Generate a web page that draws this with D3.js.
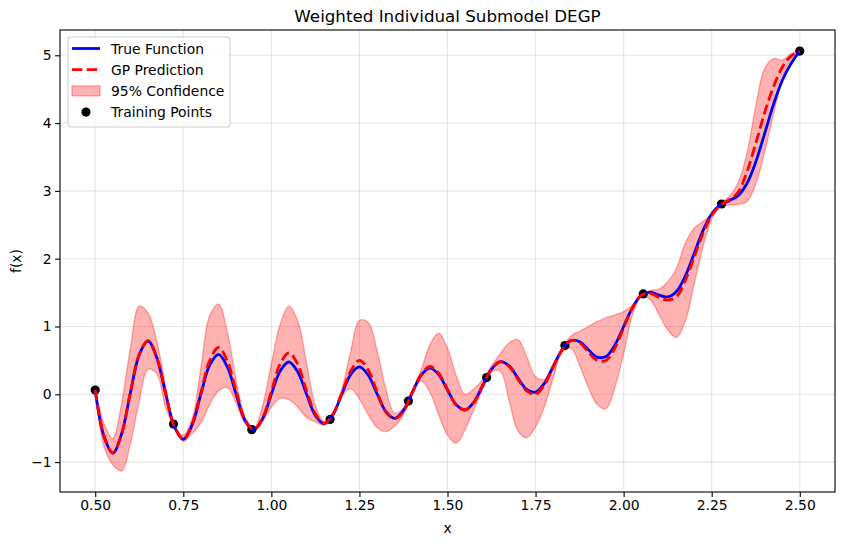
<!DOCTYPE html>
<html lang="en">
<head>
<meta charset="UTF-8">
<title>Weighted Individual Submodel DEGP</title>
<script src="https://cdn.jsdelivr.net/npm/d3@7/dist/d3.min.js"></script>
<style>
    body { margin: 0; background: #fff; }
    text { font-family: "DejaVu Sans", sans-serif; fill: #000; }
</style>
</head>
<body>
<div id="chart"></div>
<script>
    // sample grid
    const xs = [0.500, 0.525, 0.550, 0.575, 0.600, 0.625, 0.650, 0.675, 0.700, 0.725,
        0.750, 0.775, 0.800, 0.825, 0.850, 0.875, 0.900, 0.925, 0.950, 0.975,
        1.000, 1.025, 1.050, 1.075, 1.100, 1.125, 1.150, 1.175, 1.200, 1.225,
        1.250, 1.275, 1.300, 1.325, 1.350, 1.375, 1.400, 1.425, 1.450, 1.475,
        1.500, 1.525, 1.550, 1.575, 1.600, 1.625, 1.650, 1.675, 1.700, 1.725,
        1.750, 1.775, 1.800, 1.825, 1.850, 1.875, 1.900, 1.925, 1.950, 1.975,
        2.000, 2.025, 2.050, 2.075, 2.100, 2.125, 2.150, 2.175, 2.200, 2.225,
        2.250, 2.275, 2.300, 2.325, 2.350, 2.375, 2.400, 2.425, 2.450, 2.475, 2.500]

    const trueY = [0.0625, -0.6225, -0.8681, -0.5823, 0.0256, 0.5855, 0.7842, 0.5350, 0.0081, -0.4820,
        -0.6628, -0.4536, 0.0016, 0.4294, 0.5887, 0.4043, 0.0001, -0.3822, -0.5263, -0.3626,
        0.0000, 0.3449, 0.4762, 0.3289, 0.0001, -0.3141, -0.4343, -0.3000, 0.0016, 0.2912,
        0.4039, 0.2830, 0.0081, -0.2556, -0.3554, -0.2373, 0.0256, 0.2807, 0.3858, 0.2906,
        0.0625, -0.1558, -0.2311, -0.1152, 0.1296, 0.3702, 0.4815, 0.4187, 0.2401, 0.0713,
        0.0307, 0.1615, 0.4096, 0.6570, 0.7923, 0.7748, 0.6561, 0.5484, 0.5581, 0.7247,
        1.0000, 1.2784, 1.4594, 1.5059, 1.4641, 1.4354, 1.5164, 1.7435, 2.0736, 2.4108,
        2.6636, 2.7981, 2.8561, 2.9301, 3.1087, 3.4256, 3.8416, 4.2692, 4.6246, 4.8761, 5.0625]

    const gpMean = [0.06, -0.62, -0.86, -0.58, 0.03, 0.59, 0.79, 0.54, 0.01, -0.48,
        -0.66, -0.44, 0.03, 0.50, 0.69, 0.49, 0.05, -0.37, -0.52, -0.35,
        0.04, 0.45, 0.61, 0.44, 0.05, -0.29, -0.43, -0.29, 0.02, 0.34,
        0.50, 0.36, 0.04, -0.26, -0.36, -0.25, 0.03, 0.29, 0.41, 0.31,
        0.07, -0.16, -0.23, -0.12, 0.13, 0.37, 0.48, 0.41, 0.22, 0.05,
        0.00, 0.14, 0.40, 0.65, 0.79, 0.76, 0.62, 0.50, 0.50, 0.68,
        0.98, 1.27, 1.46, 1.49, 1.43, 1.39, 1.44, 1.68, 2.02, 2.37,
        2.64, 2.79, 2.87, 2.98, 3.28, 3.70, 4.15, 4.53, 4.82, 4.99, 5.06]

    const ciLower = [0.05, -0.77, -1.04, -1.13, -0.73, -0.10, 0.37, 0.30, -0.20, -0.50,
        -0.69, -0.58, -0.42, -0.15, 0.05, 0.10, -0.13, -0.43, -0.54, -0.40,
        -0.19, -0.06, -0.08, -0.19, -0.34, -0.41, -0.45, -0.31, -0.03, 0.08,
        -0.07, -0.30, -0.49, -0.55, -0.47, -0.30, 0.00, 0.20, 0.03, -0.30,
        -0.60, -0.72, -0.52, -0.22, 0.08, 0.33, 0.34, -0.09, -0.54, -0.64,
        -0.48, -0.18, 0.24, 0.62, 0.68, 0.43, 0.10, -0.15, -0.21, 0.10,
        0.60, 1.17, 1.44, 1.40, 1.18, 0.95, 0.84, 1.08, 1.62, 2.17,
        2.58, 2.77, 2.79, 2.80, 2.84, 3.10, 3.57, 4.12, 4.64, 4.94, 5.05]

    const ciUpper = [0.08, -0.43, -0.65, -0.13, 0.69, 1.30, 1.20, 0.78, 0.12, -0.46,
        -0.60, -0.36, 0.39, 1.16, 1.33, 0.92, 0.21, -0.34, -0.51, -0.17,
        0.45, 1.03, 1.30, 1.08, 0.46, -0.17, -0.40, -0.28, 0.07, 0.63,
        1.09, 1.06, 0.65, 0.08, -0.28, -0.20, 0.05, 0.35, 0.73, 0.90,
        0.68, 0.27, 0.00, 0.08, 0.22, 0.42, 0.60, 0.76, 0.81, 0.55,
        0.26, 0.22, 0.45, 0.67, 0.86, 0.93, 1.00, 1.07, 1.13, 1.17,
        1.22, 1.32, 1.47, 1.53, 1.55, 1.66, 1.86, 2.23, 2.45, 2.55,
        2.66, 2.81, 2.92, 3.12, 3.55, 4.25, 4.80, 4.95, 4.93, 5.02, 5.07]

    const trainX = [0.5, 0.7222, 0.9444, 1.1667, 1.3889, 1.6111, 1.8333, 2.0556, 2.2778, 2.5]
    const trainY = [0.0625, -0.439, -0.521, -0.370, -0.100, 0.246, 0.719, 1.481, 2.807, 5.0625]

    const xTicks = [0.5, 0.75, 1.0, 1.25, 1.5, 1.75, 2.0, 2.25, 2.5]
    const yTicks = [-1, 0, 1, 2, 3, 4, 5]

    const width = 844, height = 545,
        margin = { left: 60, top: 30, right: 9, bottom: 53 },
        g_width = width - margin.left - margin.right,
        g_height = height - margin.top - margin.bottom

    const svg = d3.select('#chart').append('svg').attr('width', width).attr('height', height)
    const g = svg.append('g').attr('transform', `translate(${margin.left},${margin.top})`)

    const x = d3.scaleLinear().domain([0.4, 2.6]).range([0, g_width])
    const y = d3.scaleLinear().domain([-1.441, 5.373]).range([g_height, 0])

    // grid
    g.append('g').selectAll('line').data(xTicks).join('line')
        .attr('x1', d => x(d)).attr('x2', d => x(d)).attr('y1', 0).attr('y2', g_height)
        .attr('stroke', '#b0b0b0').attr('stroke-opacity', 0.3).attr('stroke-width', 1.1)
    g.append('g').selectAll('line').data(yTicks).join('line')
        .attr('y1', d => y(d)).attr('y2', d => y(d)).attr('x1', 0).attr('x2', g_width)
        .attr('stroke', '#b0b0b0').attr('stroke-opacity', 0.3).attr('stroke-width', 1.1)

    const pts = xs.map((d, i) => i)
    const curve = d3.curveCatmullRom.alpha(0.5)

    // confidence band
    const area = d3.area().x(i => x(xs[i])).y0(i => y(ciLower[i])).y1(i => y(ciUpper[i])).curve(curve)
    g.append('path').attr('d', area(pts))
        .attr('fill', 'red').attr('fill-opacity', 0.3)
        .attr('stroke', 'red').attr('stroke-opacity', 0.3).attr('stroke-width', 1.4)

    // training points
    g.append('g').selectAll('circle').data(trainX).join('circle')
        .attr('cx', d => x(d)).attr('cy', (d, i) => y(trainY[i])).attr('r', 4.6).attr('fill', '#000')

    const trueLine = d3.line().x(i => x(xs[i])).y(i => y(trueY[i])).curve(curve)
    g.append('path').attr('d', trueLine(pts))
        .attr('fill', 'none').attr('stroke', 'blue').attr('stroke-width', 2.8)

    const gpLine = d3.line().x(i => x(xs[i])).y(i => y(gpMean[i])).curve(curve)
    g.append('path').attr('d', gpLine(pts))
        .attr('fill', 'none').attr('stroke', 'red').attr('stroke-width', 2.8)
        .attr('stroke-dasharray', '10.3,4.4')

    // axes
    const xAxis = d3.axisBottom(x).tickValues(xTicks).tickFormat(d3.format('.2f')).tickSize(4.9).tickPadding(3.5).tickSizeOuter(0)
    const yAxis = d3.axisLeft(y).tickValues(yTicks).tickFormat(d => d < 0 ? '\u2212' + Math.abs(d) : d).tickSize(4.9).tickPadding(3.5).tickSizeOuter(0)
    const gx = g.append('g').attr('transform', `translate(0,${g_height})`).call(xAxis)
    const gy = g.append('g').call(yAxis)
    for (const a of [gx, gy]) {
        a.selectAll('text').style('font-size', '13.9px').style('font-family', 'DejaVu Sans')
        a.selectAll('line').attr('stroke', '#000').attr('stroke-width', 1.1)
        a.select('.domain').remove()
    }

    // frame
    g.append('rect').attr('width', g_width).attr('height', g_height)
        .attr('fill', 'none').attr('stroke', '#000').attr('stroke-width', 1.1)

    // labels
    svg.append('text').attr('x', margin.left + g_width / 2).attr('y', 22)
        .attr('text-anchor', 'middle').style('font-size', '16.7px').text('Weighted Individual Submodel DEGP')
    svg.append('text').attr('x', margin.left + g_width / 2).attr('y', 533)
        .attr('text-anchor', 'middle').style('font-size', '13.9px').text('x')
    svg.append('text').attr('transform', `translate(21,${margin.top + g_height / 2}) rotate(-90)`)
        .attr('text-anchor', 'middle').style('font-size', '13.9px').text('f(x)')

    // legend
    const lg = svg.append('g').attr('transform', 'translate(68,37)')
    lg.append('rect').attr('width', 162).attr('height', 90).attr('rx', 3)
        .attr('fill', '#fff').attr('fill-opacity', 0.8).attr('stroke', '#d0d0d0').attr('stroke-width', 1.1)
    const rows = [
        { label: 'True Function', type: 'line', color: 'blue' },
        { label: 'GP Prediction', type: 'dash', color: 'red' },
        { label: '95% Confidence', type: 'patch', color: 'red' },
        { label: 'Training Points', type: 'dot', color: '#000' }
    ]
    rows.forEach((r, i) => {
        const ry = 11.5 + i * 21.2
        const row = lg.append('g').attr('transform', `translate(0,${ry})`)
        if (r.type === 'line' || r.type === 'dash') {
            row.append('line').attr('x1', 4).attr('x2', 32).attr('y1', 0).attr('y2', 0)
                .attr('stroke', r.color).attr('stroke-width', 2.8)
                .attr('stroke-dasharray', r.type === 'dash' ? '10.3,4.4' : null)
        } else if (r.type === 'patch') {
            row.append('rect').attr('x', 4).attr('y', -5).attr('width', 28).attr('height', 10)
                .attr('fill', 'red').attr('fill-opacity', 0.3).attr('stroke', 'red').attr('stroke-opacity', 0.3).attr('stroke-width', 1.4)
        } else {
            row.append('circle').attr('cx', 18).attr('cy', 0).attr('r', 4.6).attr('fill', r.color)
        }
        row.append('text').attr('x', 43).attr('y', 5).style('font-size', '13.9px').text(r.label)
    })
</script>
</body>
</html>
